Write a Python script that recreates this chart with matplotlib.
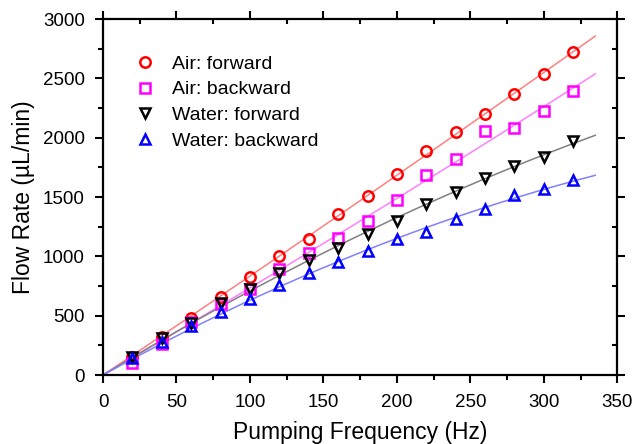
"""
Flow rate vs pumping frequency: air/water, forward/backward,
with quadratic fits through the origin.
"""
import numpy as np
import matplotlib.pyplot as plt
from matplotlib.ticker import MultipleLocator

plt.rcParams['font.family'] = ['Liberation Sans', 'DejaVu Sans']

# Data
freq = [20, 40, 60, 80, 100, 120, 140, 160, 180, 200, 220, 240, 260, 280, 300, 320]
air_fwd = [155, 318, 483, 657, 828, 1000, 1146, 1354, 1511, 1696, 1888, 2048, 2197, 2365, 2536, 2719]
air_bwd = [104, 261, 449, 598, 727, 891, 1025, 1152, 1295, 1475, 1683, 1817, 2056, 2084, 2225, 2393]
water_fwd = [155, 315, 441, 604, 725, 857, 969, 1068, 1188, 1295, 1441, 1545, 1663, 1764, 1840, 1974]
water_bwd = [146, 275, 413, 528, 640, 756, 862, 955, 1045, 1143, 1202, 1312, 1399, 1517, 1570, 1646]
labels = ["Air: forward", "Air: backward", "Water: forward", "Water: backward"]

series = [air_fwd, air_bwd, water_fwd, water_bwd]
markers = ['o', 's', 'v', '^']
colors = ['#ff0000', '#ff00ff', '#000000', '#0000ff']
fit_colors = ['#ff8080', '#ff80ff', '#808080', '#8080ff']

fig = plt.figure(figsize=(6.34, 4.44), dpi=100)
ax = fig.add_axes([0.1625, 0.1554, 0.8112, 0.8018])

x = np.array(freq, dtype=float)
xf = np.linspace(0, 335, 200)
for y, m, c, fc, lab in zip(series, markers, colors, fit_colors, labels):
    y = np.array(y, dtype=float)
    # quadratic fit forced through origin: y = a*x + b*x^2
    A = np.column_stack([x, x ** 2])
    (a, b), *_ = np.linalg.lstsq(A, y, rcond=None)
    ax.plot(xf, a * xf + b * xf ** 2, color=fc, lw=1.1, zorder=2)
    ax.plot(x, y, linestyle='none', marker=m, markersize=7.5 if m != 's' else 6.5,
            markerfacecolor='none', markeredgecolor=c, markeredgewidth=1.8,
            label=lab, zorder=3)

ax.set_xlim(0, 350)
ax.set_ylim(0, 3000)
ax.xaxis.set_major_locator(MultipleLocator(50))
ax.xaxis.set_minor_locator(MultipleLocator(25))
ax.yaxis.set_major_locator(MultipleLocator(500))
ax.yaxis.set_minor_locator(MultipleLocator(250))

ax.tick_params(which='both', labelsize=13.5, width=1.5, top=True, right=True)
ax.tick_params(which='major', length=5.8)
ax.tick_params(which='minor', length=3.3)
for t in ax.xaxis.get_major_ticks() + ax.xaxis.get_minor_ticks():
    t.tick2line.set_marker(3)  # top ticks point inward
for t in ax.yaxis.get_major_ticks() + ax.yaxis.get_minor_ticks():
    t.tick2line.set_marker(0)  # right ticks point inward
ax.tick_params(axis='x', direction='out', pad=8.2)
ax.tick_params(axis='y', direction='out', pad=7.2)
for sp in ax.spines.values():
    sp.set_linewidth(1.6)

ax.set_xlabel("Pumping Frequency (Hz)", fontsize=16.5, labelpad=7)
ax.set_ylabel("Flow Rate (\u00b5L/min)", fontsize=16.5, labelpad=6)

ax.legend(loc='upper left', bbox_to_anchor=(0.063, 0.899), frameon=False,
          fontsize=14, handlelength=1.0, handletextpad=0.9, labelspacing=0.42,
          borderpad=0, borderaxespad=0)

fig.savefig("out.png", dpi=100)
